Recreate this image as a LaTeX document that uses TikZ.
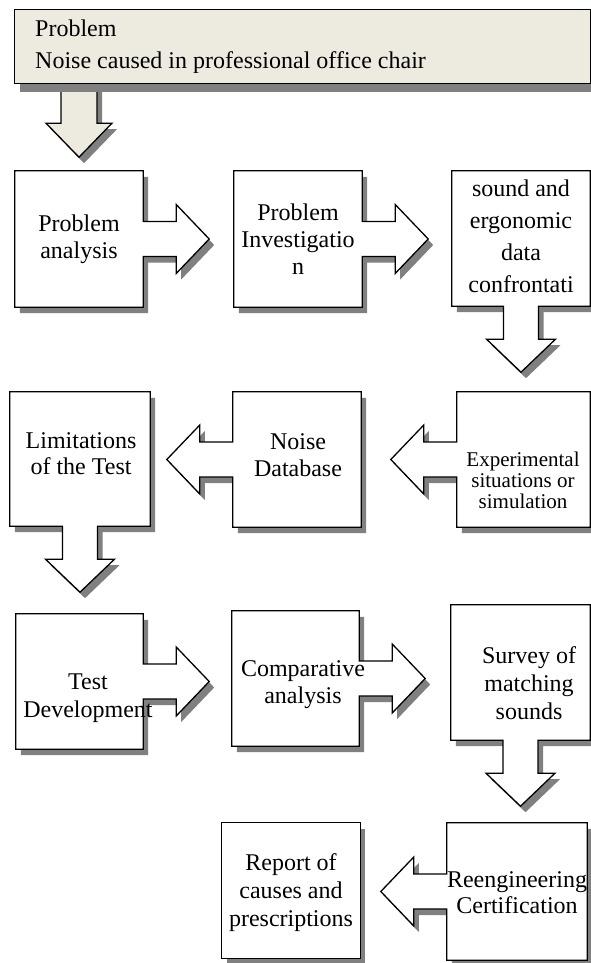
\documentclass[tikz,border=0pt]{standalone}
\usepackage{fontspec}
\setmainfont{Liberation Serif}
\usetikzlibrary{calc,shadows}

\definecolor{shadowgray}{RGB}{128,128,128}
\definecolor{beige}{RGB}{237,235,224}

\tikzset{
  unit/.style={draw=black, line width=1.3pt, fill=white, line join=miter,
    drop shadow={shadow xshift=5pt, shadow yshift=-6pt, fill=shadowgray, opacity=1}},
  box/.style={rectangle, inner sep=0pt, minimum width=#1},
  box/.default=128pt,
  txt/.style={inner sep=0pt, anchor=base, font=\fontsize{24}{#1}\selectfont},
  txt/.default=28,
}

\begin{document}
\begin{tikzpicture}[x=1pt,y=-1pt]
  \useasboundingbox (0,0) rectangle (591,963);

  % box geometry
  \node[box] (analysis) at (79,239) [minimum height=136pt] {};
  \node[box] (investigation) at (298,239) [minimum height=136pt] {};
  \node[box=138pt] (confront) at (521,238.5) [minimum height=135pt] {};
  \node[box=133pt] (experimental) at (523.5,459.5) [minimum height=135pt] {};
  \node[box] (database) at (297,459.5) [minimum height=135pt] {};
  \node[box=140pt] (limitations) at (80,459) [minimum height=134pt] {};
  \node[box=127pt] (development) at (79.5,681.5) [minimum height=135pt] {};
  \node[box=127pt] (comparative) at (295.5,678.5) [minimum height=135pt] {};
  \node[box=139pt] (survey) at (520.5,672.5) [minimum height=135pt] {};
  \node[box=140pt] (reengineering) at (517,891.5) [minimum height=137pt] {};
  \node[box=138pt] (report) at (291,890.5) [minimum height=135pt] {};
  \node[box=575pt] (problem) at (302.5,46.5) [minimum height=73pt] {};

  % top arrow, behind the problem box
  \draw[unit, fill=beige] ($(problem.south -| analysis.north)+(-18,2)$) -- ++(0,38) -- ++(-15,0)
    -- ($(problem.south -| analysis.north)+(0,74)$) -- ++(33,-34) -- ++(-15,0) -- ++(0,-38) -- cycle;
  \draw[unit, fill=beige, drop shadow={shadow xshift=5pt, shadow yshift=-9pt, fill=shadowgray, opacity=1}]
    (problem.north west) rectangle (problem.south east);
  \begin{scope}
    \clip (problem.north west) rectangle ($(problem.east)+(0,26)$);
    \node[txt=32, anchor=base west] (problem-t) at (35,37)
      {\begin{tabular}[t]{@{}l@{}}Problem\\Noise caused in professional office chair\end{tabular}};
  \end{scope}

  % row 1
  \draw[unit] (analysis.north west) -- (analysis.north east)
    -- ($(analysis.east)+(0,-17.5)$) -- ++(33,0) -- ++(0,-17) -- ($(analysis.east)+(66,0)$)
    -- ($(analysis.east)+(33,34.5)$) -- ++(0,-17) -- ($(analysis.east)+(0,17.5)$)
    -- (analysis.south east) -- (analysis.south west) -- cycle;
  \draw[unit] (investigation.north west) -- (investigation.north east)
    -- ($(investigation.east)+(0,-17.5)$) -- ++(33,0) -- ++(0,-17) -- ($(investigation.east)+(66,0)$)
    -- ($(investigation.east)+(33,34.5)$) -- ++(0,-17) -- ($(investigation.east)+(0,17.5)$)
    -- (investigation.south east) -- (investigation.south west) -- cycle;
  \draw[unit] (confront.north west) -- (confront.north east) -- (confront.south east)
    -- ($(confront.south)+(17.5,0)$) -- ++(0,33) -- ++(17,0) -- ($(confront.south)+(0,66)$)
    -- ($(confront.south)+(-34.5,33)$) -- ++(17,0) -- ($(confront.south)+(-17.5,0)$)
    -- (confront.south west) -- cycle;

  % row 2
  \draw[unit] (experimental.north west) -- (experimental.north east) -- (experimental.south east)
    -- (experimental.south west) -- ($(experimental.west)+(0,17.5)$) -- ++(-33,0) -- ++(0,17)
    -- ($(experimental.west)+(-66,0)$) -- ($(experimental.west)+(-33,-34.5)$) -- ++(0,17)
    -- ($(experimental.west)+(0,-17.5)$) -- cycle;
  \draw[unit] (database.north west) -- (database.north east) -- (database.south east)
    -- (database.south west) -- ($(database.west)+(0,17.5)$) -- ++(-33,0) -- ++(0,17)
    -- ($(database.west)+(-66,0)$) -- ($(database.west)+(-33,-34.5)$) -- ++(0,17)
    -- ($(database.west)+(0,-17.5)$) -- cycle;
  \draw[unit] (limitations.north west) -- (limitations.north east) -- (limitations.south east)
    -- ($(limitations.south)+(17.5,0)$) -- ++(0,33) -- ++(17,0) -- ($(limitations.south)+(0,66)$)
    -- ($(limitations.south)+(-34.5,33)$) -- ++(17,0) -- ($(limitations.south)+(-17.5,0)$)
    -- (limitations.south west) -- cycle;

  % row 3
  \draw[unit] (development.north west) -- (development.north east)
    -- ($(development.east)+(0,-17.5)$) -- ++(33,0) -- ++(0,-17) -- ($(development.east)+(66,0)$)
    -- ($(development.east)+(33,34.5)$) -- ++(0,-17) -- ($(development.east)+(0,17.5)$)
    -- (development.south east) -- (development.south west) -- cycle;
  \draw[unit] (comparative.north west) -- (comparative.north east)
    -- ($(comparative.east)+(0,-17.5)$) -- ++(33,0) -- ++(0,-17) -- ($(comparative.east)+(66,0)$)
    -- ($(comparative.east)+(33,34.5)$) -- ++(0,-17) -- ($(comparative.east)+(0,17.5)$)
    -- (comparative.south east) -- (comparative.south west) -- cycle;
  \draw[unit] (survey.north west) -- (survey.north east) -- (survey.south east)
    -- ($(survey.south)+(17.5,0)$) -- ++(0,33) -- ++(17,0) -- ($(survey.south)+(0,66)$)
    -- ($(survey.south)+(-34.5,33)$) -- ++(17,0) -- ($(survey.south)+(-17.5,0)$)
    -- (survey.south west) -- cycle;

  % row 4
  \draw[unit] (reengineering.north west) -- (reengineering.north east) -- (reengineering.south east)
    -- (reengineering.south west) -- ($(reengineering.west)+(0,17.5)$) -- ++(-33,0) -- ++(0,17)
    -- ($(reengineering.west)+(-66,0)$) -- ($(reengineering.west)+(-33,-34.5)$) -- ++(0,17)
    -- ($(reengineering.west)+(0,-17.5)$) -- cycle;
  \draw[unit] (report.north west) rectangle (report.south east);

  % texts
  \node[txt=27] (analysis-t) at (79,231) {\begin{tabular}[t]{@{}c@{}}Problem\\analysis\end{tabular}};
  \node[txt=27] (investigation-t) at (298,220) {\begin{tabular}[t]{@{}c@{}}Problem\\Investigatio\\n\end{tabular}};
  \node[txt=32] (confront-t) at (521,196) {\begin{tabular}[t]{@{}c@{}}sound and\\ergonomic\\data\\confrontati\end{tabular}};
  \node[txt=21, font=\fontsize{21}{21}\selectfont] (experimental-t) at (523,466)
    {\begin{tabular}[t]{@{}c@{}}Experimental\\situations or\\simulation\end{tabular}};
  \node[txt=27] (database-t) at (298,449) {\begin{tabular}[t]{@{}c@{}}Noise\\Database\end{tabular}};
  \node[txt=26] (limitations-t) at (81,448) {\begin{tabular}[t]{@{}c@{}}Limitations\\of the Test\end{tabular}};
  \node[txt=28] (development-t) at (88,689) {\begin{tabular}[t]{@{}c@{}}Test\\Development\end{tabular}};
  \node[txt=27] (comparative-t) at (303,676) {\begin{tabular}[t]{@{}c@{}}Comparative\\analysis\end{tabular}};
  \node[txt=28] (survey-t) at (529,663) {\begin{tabular}[t]{@{}c@{}}Survey of\\matching\\sounds\end{tabular}};
  \node[txt=26] (reengineering-t) at (517,887) {\begin{tabular}[t]{@{}c@{}}Reengineering\\Certification\end{tabular}};
  \node[txt=28] (report-t) at (291,870) {\begin{tabular}[t]{@{}c@{}}Report of\\causes and\\prescriptions\end{tabular}};
\end{tikzpicture}
\end{document}
